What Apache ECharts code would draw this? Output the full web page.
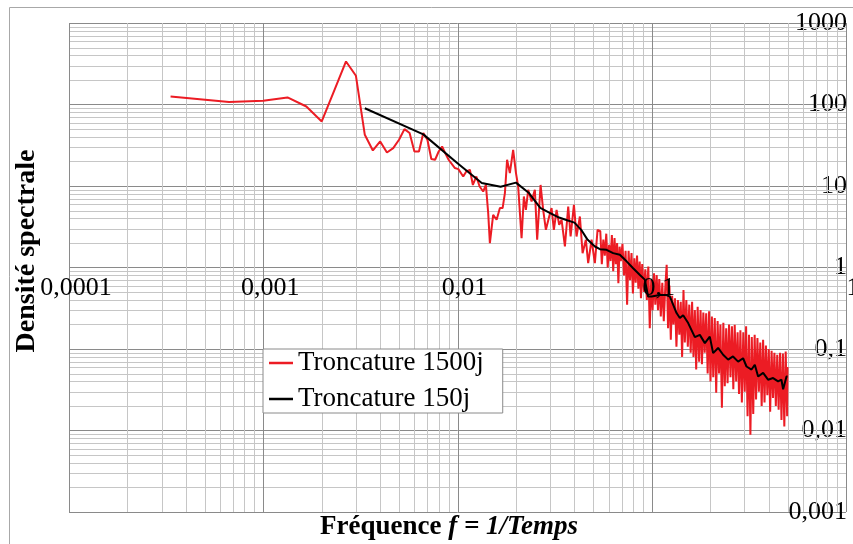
<!DOCTYPE html>
<html><head><meta charset="utf-8">
<script src="https://cdn.jsdelivr.net/npm/echarts@6/dist/echarts.min.js"></script>
<style>html,body{margin:0;padding:0;background:#fff}#c{width:853px;height:544px}</style>
</head><body><div id="c"></div>
<script>
// ---- Data ----
const seriesNames = ['Troncature 1500j', 'Troncature 150j'];

// Truncation 1500 days (red)
const redFreq = [
  0.0003333,0.0006667,0.001,0.001333,0.001667,0.002,0.002333,0.002667,0.003,0.003333,
  0.003667,0.004,0.004333,0.004667,0.005,0.005333,0.005667,0.006,0.006333,0.006667,
  0.007,0.007333,0.007667,0.008,0.008333,0.008667,0.009,
  0.0097,0.0101,0.0107,0.0111,0.01158,0.0120,0.0125,0.0130,0.01356,0.0140,
  0.01439,0.01468,0.01526,0.0159,0.01653,0.01707,0.01754,0.0180,0.0186,0.01934,
  0.0200,0.02053,0.02137,0.02196,0.02249,0.02312,0.02406,0.02502,0.02571,0.02677,
  0.02761,0.02851,0.02965,0.0305,0.03134,0.03236,0.03338,0.03435,0.03572,0.03715,
  0.03822,0.03975,0.0410,0.04266,0.04405,0.0458,0.04707,0.049,0.05095,0.05261,
  0.05433,0.05533,0.05633,0.05733,0.05833,0.05933,0.06033,0.06133,0.06233,0.06333,
  0.06433,0.06533,0.06633,0.06733,0.06833,0.06933,0.07067,0.072,0.07333,0.07467,
  0.076,0.07733,0.07867,0.08,0.08133,0.08267,0.084,0.08533,0.08667,0.088,
  0.08933,0.091,0.09267,0.09433,0.096,0.09767,0.09933,0.101,0.10267,0.10433,
  0.106,0.10767,0.10933,0.11133,0.11333,0.11533,0.11733,0.11933,0.12133,0.12333,
  0.12533,0.12733,0.12933,0.13167,0.134,0.13633,0.13867,0.141,0.14333,0.14567,
  0.148,0.15067,0.15333,0.156,0.15867,0.16133,0.164,0.16667,0.16933,0.17233,
  0.17533,0.17833,0.18133,0.18433,0.18733,0.19067,0.194,0.19733,0.20067,0.204,
  0.20733,0.211,0.21467,0.21833,0.222,0.22567,0.22967,0.23367,0.23767,0.24167,
  0.24567,0.25,0.25433,0.25867,0.263,0.26733,0.272,0.27667,0.28133,0.286,
  0.291,0.296,0.301,0.306,0.31133,0.31667,0.322,0.32733,0.333,0.33867,
  0.34433,0.35,0.356,0.362,0.368,0.37433,0.38067,0.387,0.39367,0.40033,
  0.407,0.414,0.421,0.428,0.43533,0.44267,0.45,0.45767,0.46533,0.47333,
  0.48133,0.48933,0.49767,0.5
];
const redDensity = [
  125,107,111,122,94.5,62,153,337,225,42.5,
  27.3,35.2,25.8,29.2,36.9,49.9,44.6,26.5,26.5,44.6,
  36.9,21.4,21,26.5,30.5,25,21,
  16.6,16.1,13.1,15.1,15.8,10.3,13.1,9.86,8.56,10.3,
  4.65,1.99,4.43,3.85,5.36,5.36,8.18,21.0,14.4,27.8,
  14.4,9.86,2.29,7.43,5.10,8.98,6.45,8.98,2.19,10.3,
  5.10,2.90,4.23,5.36,2.90,5.10,3.34,3.85,1.81,5.60,
  2.40,5.88,2.40,4.23,1.50,2.19,1.13,2.19,1.13,2.90,
  2.8,1.1,2.2,1.4,2.6,1.0,1.9,1.2,2.5,0.9,
  2.3,1.1,2.0,0.64,1.8,1.2,1.95,0.8,1.6,0.35,
  1.6,0.7,1.5,0.48,1.3,0.65,1.4,0.55,1.18,0.42,
  1.1,0.5,0.95,0.4,1.03,0.18,0.7,0.3,0.85,0.35,
  0.81,0.3,0.72,0.25,0.65,0.22,0.55,1.08,0.18,0.6,
  0.13,0.45,0.2,0.42,0.107,0.4,0.15,0.38,0.08,0.53,
  0.12,0.40,0.107,0.35,0.09,0.38,0.08,0.30,0.056,0.33,
  0.07,0.3,0.065,0.28,0.09,0.275,0.05,0.29,0.04,0.25,
  0.045,0.24,0.029,0.22,0.05,0.2,0.019,0.21,0.035,0.18,
  0.038,0.2,0.045,0.19,0.032,0.198,0.04,0.16,0.028,0.17,
  0.022,0.16,0.03,0.19,0.015,0.15,0.0089,0.14,0.016,0.15,
  0.024,0.136,0.03,0.12,0.02,0.13,0.022,0.11,0.027,0.1,
  0.017,0.095,0.025,0.09,0.02,0.085,0.018,0.09,0.0135,0.088,
  0.0112,0.093,0.015,0.06
];

// Truncation 150 days (black)
const blackFreq = [
  0.003333,0.006667,0.01,0.01333,0.01667,0.02,0.02333,0.02667,0.03,0.03333,
  0.03667,0.04,0.04333,0.04667,0.051,0.0541,0.0585,0.0633,0.0685,0.0742,
  0.0802,0.0869,0.0921,0.0958,0.0998,0.110,0.119,0.124,0.1342,0.1395,
  0.1451,0.154,0.1667,0.1768,0.1877,0.199,0.207,0.2196,0.2331,0.2473,
  0.262,0.2784,0.2953,0.3075,0.3263,0.3393,0.3528,0.3744,0.397,0.4214,
  0.4472,0.4652,0.4746,0.494,0.5
];
const blackDensity = [
  90,43,19,10.9,9.8,11.0,8.2,5.4,4.65,4.1,
  3.8,3.55,2.9,2.2,1.81,1.68,1.65,1.5,1.43,1.19,
  0.98,0.81,0.71,0.44,0.44,0.46,0.46,0.44,0.276,0.24,
  0.26,0.208,0.14,0.149,0.118,0.142,0.089,0.103,0.085,0.074,
  0.081,0.070,0.077,0.061,0.056,0.064,0.046,0.051,0.042,0.044,
  0.040,0.042,0.032,0.046,0.046
];

const xDecades = [0.0001, 0.001, 0.01, 0.1, 1];
const yDecades = [0.001, 0.01, 0.1, 1, 10, 100, 1000];
const xTitleBold = 'Fréquence ';
const xTitleItalic = 'f = 1/Temps';
const yTitle = 'Densité spectrale';

// ---- Build ----
const FONT = '"Liberation Serif","Times New Roman",serif';
const X_MIN = xDecades[0], X_MAX = xDecades[xDecades.length - 1];
const Y_MIN = yDecades[0], Y_MAX = yDecades[yDecades.length - 1];
const MAJOR = '#8a8a8a', MINOR = '#c6c6c6';

function minorValues(decades) {
  const out = [];
  for (let i = 0; i < decades.length - 1; i++) {
    for (let m = 2; m <= 9; m++) out.push(+(m * decades[i]).toPrecision(6));
  }
  return out;
}
function fmt(v) {
  if (v >= 1) return String(Math.round(v));
  const d = Math.round(-Math.log10(v));
  return v.toFixed(d).replace('.', ',');
}
const pairs = (xs, ys) => xs.map((x, i) => [x, ys[i]]);
const crisp = v => Math.round(v) + 0.5;

function gridLines(values, vertical, color, z) {
  return {
    type: 'custom', silent: true, z: z, animation: false, clip: false,
    data: values.map(v => vertical ? [v, 1] : [0.01, v]),
    renderItem: function (params, api) {
      const v = api.value(vertical ? 0 : 1);
      const a = api.coord(vertical ? [v, Y_MIN] : [X_MIN, v]);
      const b = api.coord(vertical ? [v, Y_MAX] : [X_MAX, v]);
      const shape = vertical
        ? {x1: crisp(a[0]), y1: a[1], x2: crisp(a[0]), y2: b[1]}
        : {x1: a[0], y1: crisp(a[1]), x2: b[0], y2: crisp(a[1])};
      return {type: 'line', shape: shape,
              style: {stroke: color, lineWidth: 1, fill: null}};
    }
  };
}

const chart = echarts.init(document.getElementById('c'), null, {renderer: 'canvas'});
chart.setOption({
  animation: false,
  backgroundColor: '#fff',
  grid: {left: 69, top: 23, right: 7, bottom: 32, containLabel: false, outerBoundsMode: 'none'},
  xAxis: {
    type: 'log', logBase: 10, min: X_MIN, max: X_MAX, z: 10,
    splitNumber: 4, position: 'bottom', offset: -244,
    axisLine: {show: false}, axisTick: {show: false},
    axisLabel: {
      show: true, margin: 7, fontFamily: FONT, fontSize: 26, color: '#000',
      padding: [0, 0, 0, 14], showMinLabel: true, showMaxLabel: true,
      hideOverlap: false, formatter: fmt
    },
    splitLine: {show: false}
  },
  yAxis: {
    type: 'log', logBase: 10, min: Y_MIN, max: Y_MAX,
    splitNumber: 6, position: 'right',
    axisLine: {show: false}, axisTick: {show: false},
    axisLabel: {
      show: true, inside: true, margin: -1, fontFamily: FONT, fontSize: 26, color: '#000',
      verticalAlign: 'middle', padding: [0, 0, 6, 0],
      showMinLabel: true, showMaxLabel: true, formatter: fmt
    },
    splitLine: {show: true, lineStyle: {color: MAJOR, width: 1}}
  },
  legend: {
    data: seriesNames,
    orient: 'vertical', left: 263, top: 349,
    backgroundColor: '#fff', borderColor: MAJOR, borderWidth: 1,
    padding: [0, 19, 0, 6], itemGap: 8,
    icon: 'rect', itemWidth: 24, itemHeight: 2.5,
    textStyle: {fontFamily: FONT, fontSize: 27, color: '#000', lineHeight: 28}
  },
  graphic: [
    {type: 'rect', shape: {x: 9.5, y: 7.5, width: 900, height: 600},
     style: {fill: 'none', stroke: '#a8a8a8', lineWidth: 1}, silent: true},
    {type: 'text', x: 449, y: 527,
     style: {
       text: '{b|' + xTitleBold + '}{i|' + xTitleItalic + '}',
       align: 'center', verticalAlign: 'middle',
       rich: {
         b: {fontFamily: FONT, fontSize: 27, fontWeight: 'bold', fill: '#000', color: '#000'},
         i: {fontFamily: FONT, fontSize: 27, fontWeight: 'bold', fontStyle: 'italic', fill: '#000', color: '#000'}
       }
     }},
    {type: 'text', x: 27, y: 251, rotation: Math.PI / 2,
     style: {text: yTitle, font: 'bold 28px ' + FONT, fill: '#000',
             align: 'center', verticalAlign: 'middle'}}
  ],
  series: [
    gridLines(minorValues(xDecades), true, MINOR, 1),
    gridLines(minorValues(yDecades), false, MINOR, 1),
    gridLines(xDecades, true, MAJOR, 1.5),
    {
      name: seriesNames[0], type: 'line', data: pairs(redFreq, redDensity),
      symbol: 'none', showSymbol: false, z: 3,
      lineStyle: {color: '#ec1c24', width: 2}, itemStyle: {color: '#ec1c24'}
    },
    {
      name: seriesNames[1], type: 'line', data: pairs(blackFreq, blackDensity),
      symbol: 'none', showSymbol: false, z: 4,
      lineStyle: {color: '#000', width: 2}, itemStyle: {color: '#000'}
    }
  ]
});
</script></body></html>
